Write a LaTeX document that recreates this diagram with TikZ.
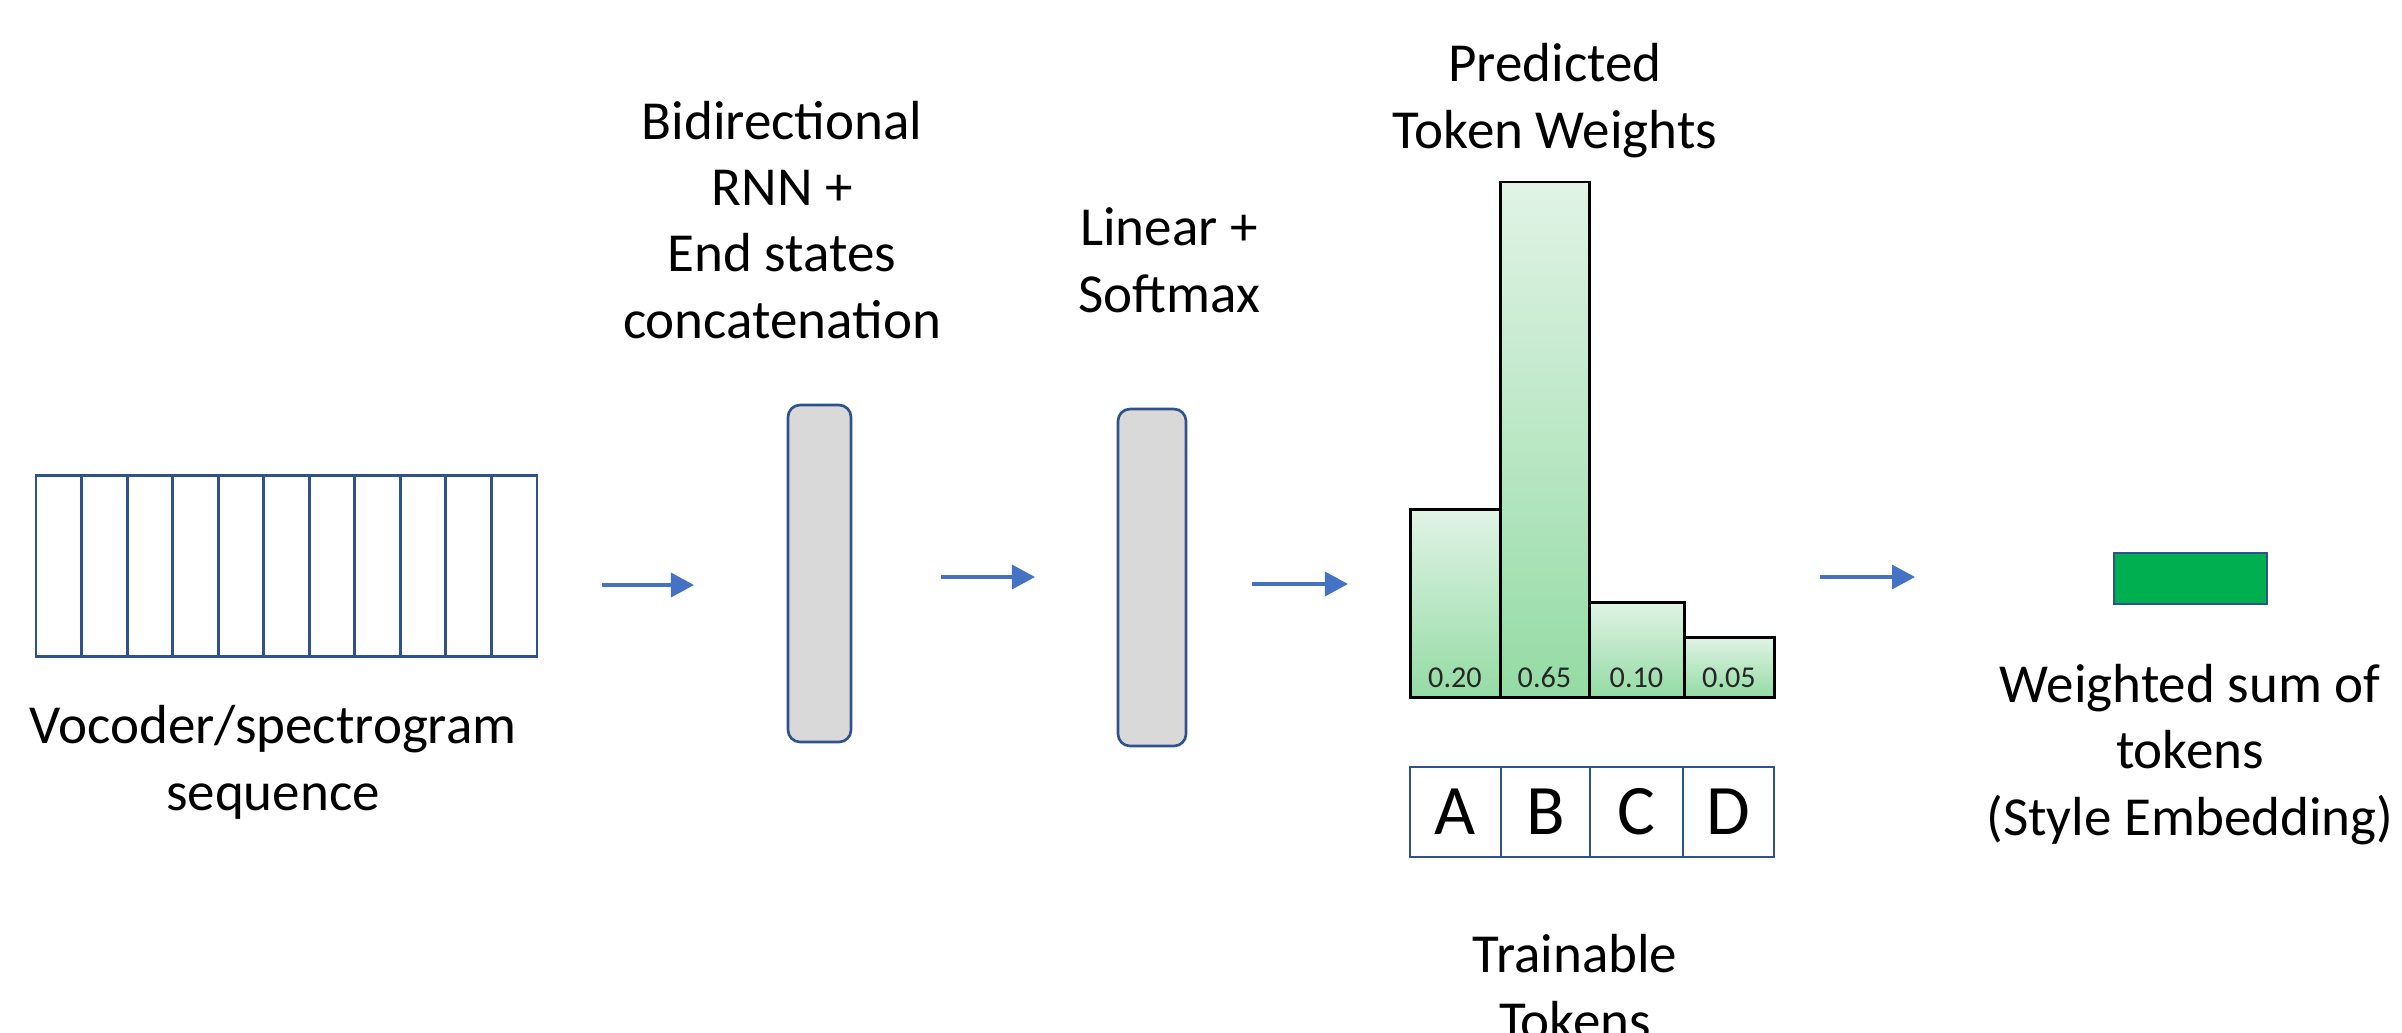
\documentclass[tikz,border=0pt]{standalone}
\usepackage{fontspec}
\setmainfont{Carlito}
\usetikzlibrary{arrows.meta}

\definecolor{outlineblue}{HTML}{2F528F}
\definecolor{arrowblue}{HTML}{4472C4}
\definecolor{layergray}{HTML}{D9D9D9}
\definecolor{embgreen}{HTML}{00B050}
\definecolor{barlight}{HTML}{E1F3E6}
\definecolor{bardark}{HTML}{94DBA4}

% multi-line labels are anchored at the baseline of their last line
\tikzset{
  label/.style={font=\fontsize{15.65}{18.8}\selectfont, align=center, anchor=base, inner sep=0pt},
  flow/.style={draw=arrowblue, line width=0.95pt, -{Triangle[length=0.23cm,width=0.24cm]}},
  seqcell/.style={draw=outlineblue, line width=0.85pt},
  layer/.style={draw=outlineblue, fill=layergray, line width=0.75pt, rounded corners=0.12cm},
  bar/.style={draw=black, line width=0.85pt, top color=barlight, bottom color=bardark},
  barval/.style={font=\fontsize{8.6}{10}\selectfont, text=black!85, anchor=base, inner sep=0pt},
  token/.style={draw=outlineblue, line width=0.75pt},
  tokletter/.style={font=\fontsize{20.2}{24}\selectfont, inner sep=0pt},
}

\begin{document}
\begin{tikzpicture}[x=0.01cm, y=-0.01cm]
  \useasboundingbox (0,0) rectangle (2402,1033);

  % input sequence of frames
  \draw[seqcell] (36,475) rectangle (537,656);
  \foreach \i in {1,...,10} {
    \draw[seqcell] ({36+\i*45.545},475) -- ({36+\i*45.545},656);
  }
  \node[label] (seqlbl) at (273,810) {Vocoder/spectrogram\\sequence};

  % recurrent encoder layer
  \draw[layer] (788,405) rectangle (851,742);
  \node[label] (rnnlbl) at (782,338) {Bidirectional\\RNN +\\End states\\concatenation};

  % linear + softmax layer
  \draw[layer] (1118,409) rectangle (1186,746);
  \node[label] (linlbl) at (1169,312) {Linear +\\Softmax};

  % predicted token weights
  \draw[bar] (1410,509) rectangle (1500,697);
  \draw[bar] (1500,182) rectangle (1589,697);
  \draw[bar] (1589,602) rectangle (1684,697);
  \draw[bar] (1684,637) rectangle (1774,697);
  \node[barval] (w1) at (1455,687) {0.20};
  \node[barval] (w2) at (1544.5,687) {0.65};
  \node[barval] (w3) at (1636.5,687) {0.10};
  \node[barval] (w4) at (1729,687) {0.05};
  \node[label] (predlbl) at (1555,148) {Predicted\\Token Weights};

  % trainable tokens
  \draw[token] (1410,767) rectangle (1774,857);
  \foreach \x in {1501,1590,1683} {
    \draw[token] (\x,767) -- (\x,857);
  }
  \node[tokletter] (tA) at (1455.5,812) {A};
  \node[tokletter] (tB) at (1545.5,812) {B};
  \node[tokletter] (tC) at (1636.5,812) {C};
  \node[tokletter] (tD) at (1728.5,812) {D};
  \node[label] (toklbl) at (1575,1039) {Trainable\\Tokens};

  % style embedding
  \node[draw=outlineblue, fill=embgreen, line width=0.7pt, minimum width=1.53cm,
        minimum height=0.51cm, inner sep=0pt] (emb) at (2190.5,578.5) {};
  \node[label] (emblbl) at (2190,835) {Weighted sum of\\tokens\\(Style Embedding)};

  % flow arrows
  \coordinate (a1s) at (602,585);  \coordinate (a1e) at (694,585);
  \coordinate (a2s) at (941,577);  \coordinate (a2e) at (1035,577);
  \coordinate (a3s) at (1252,584); \coordinate (a3e) at (1348,584);
  \coordinate (a4s) at (1820,577); \coordinate (a4e) at (1915,577);
  \draw[flow] (a1s) -- (a1e);
  \draw[flow] (a2s) -- (a2e);
  \draw[flow] (a3s) -- (a3e);
  \draw[flow] (a4s) -- (a4e);
\end{tikzpicture}
\end{document}
